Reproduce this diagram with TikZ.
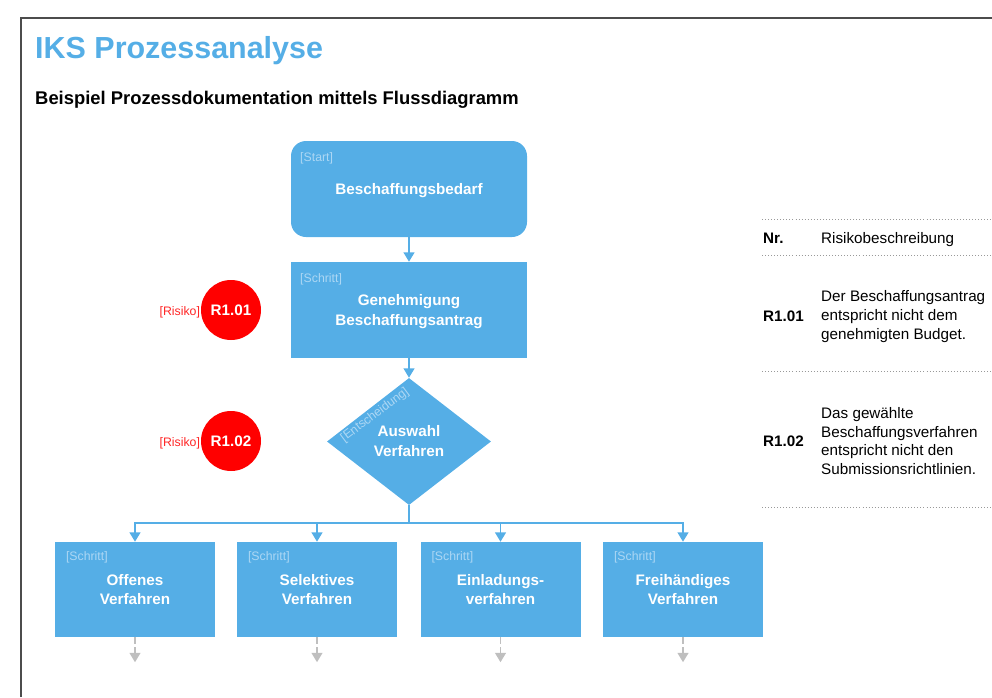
\documentclass[tikz,border=0pt]{standalone}
\usepackage{fontspec}
\setmainfont{Liberation Sans}
\usetikzlibrary{arrows.meta,shapes.geometric}
\definecolor{iksblue}{RGB}{85,174,230}
\definecolor{tagblue}{RGB}{172,215,244}
\definecolor{riskred}{RGB}{255,0,0}
\tikzset{
	frame/.style={line width=1.5pt, color=black!70},
	stepbox/.style={fill=iksblue, text=white, inner sep=0pt, minimum width=48mm, minimum height=28.5mm, align=center, text depth=-3.5pt, font=\bfseries\fontsize{13}{17}\selectfont},
	startbox/.style={stepbox, rounded corners=4.5mm, minimum width=70.8mm, minimum height=28.8mm},
	decision/.style={diamond, fill=iksblue, text=white, inner sep=0pt, minimum width=49.2mm, minimum height=38.1mm, aspect=1.29, align=center, font=\bfseries\fontsize{13}{17}\selectfont},
	tag/.style={anchor=west, inner sep=0pt, text=tagblue, font=\fontsize{10.5}{12}\selectfont},
	risk/.style={circle, fill=riskred, text=white, inner sep=0pt, minimum size=18mm, font=\bfseries\fontsize{13}{15}\selectfont},
	risktag/.style={anchor=east, inner sep=0.5pt, text=riskred!85, font=\fontsize{10.5}{12}\selectfont},
	cell/.style={anchor=base west, inner sep=0pt, align=left, font=\fontsize{13}{16}\selectfont},
	rule/.style={dotted, line width=0.6pt, color=black!40},
	flow/.style={line width=1.6pt, color=iksblue, -{Triangle[length=2.8mm, width=3.2mm]}},
	next/.style={line width=1.6pt, color=black!25, dash pattern=on 2mm off 1mm, -{Triangle[length=2.8mm, width=3.2mm]}}
}

\begin{document}
\begin{tikzpicture}[x=0.3mm, y=-0.3mm]
	%%%%% START %%%%%
	\useasboundingbox (0,0) rectangle (992,697);
	\draw[frame] (21,697) -- (21,18) -- (992,18);
	
	\node[anchor=base west, inner sep=0pt, text=iksblue, font=\bfseries\fontsize{26}{30}\selectfont] (title) at (35,58) {IKS Prozessanalyse};
	\node[anchor=base west, inner sep=0pt, font=\bfseries\fontsize{15.7}{18}\selectfont] (subtitle) at (35,104.5) {Beispiel Prozessdokumentation mittels Flussdiagramm};
	
	% flow chart
	\node[startbox] (bedarf) at (409,189) {Beschaffungsbedarf};
	\node[stepbox, minimum width=70.8mm, minimum height=28.8mm] (antrag) at (409,310) {Genehmigung\\Beschaffungsantrag};
	\node[decision] (auswahl) at (409,441.5) {Auswahl\\Verfahren};
	\node[stepbox] (offen) at (135,589.5) {Offenes\\Verfahren};
	\node[stepbox] (selektiv) at (317,589.5) {Selektives\\Verfahren};
	\node[stepbox] (einladung) at (500.5,589.5) {Einladungs-\\verfahren};
	\node[stepbox] (frei) at (683,589.5) {Freihändiges\\Verfahren};
	
	\node[tag] (tagbedarf) at (300,158) {[Start]};
	\node[tag] (tagantrag) at (300,279) {[Schritt]};
	\node[tag, anchor=center, rotate=37] (tagauswahl) at (375,415) {[Entscheidung]};
	\foreach \n in {offen,selektiv,einladung,frei}
		\node[tag, name=tag\n] at ([shift={(11,16)}]\n.north west) {[Schritt]};
	
	\draw[flow] (bedarf) -- (antrag);
	\draw[flow] (antrag) -- (auswahl);
	\coordinate (split) at (409,523);
	\draw[flow, -] (auswahl) -- (split);
	\foreach \n in {offen,selektiv,einladung,frei}
		\draw[flow] (split) -| (\n);
	\foreach \n in {offen,selektiv,einladung,frei}
		\draw[next] (\n.south) -- ++(0,25);
	
	% risks
	\node[risk] (r101) at (231,310) {R1.01};
	\node[risktag] (tag101) at ([shift={(0,2)}]r101.west) {[Risiko]};
	\node[risk] (r102) at (231,441) {R1.02};
	\node[risktag] (tag102) at ([shift={(0,2)}]r102.west) {[Risiko]};
	
	% table
	\draw[rule] (762,219) -- (992,219);
	\draw[rule] (762,255) -- (992,255);
	\draw[rule] (762,371) -- (992,371);
	\draw[rule] (762,507) -- (992,507);
	
	\node[cell] (nr) at (763,243) {\bfseries Nr.};
	\node[cell] (beschr) at (821,243) {Risikobeschreibung};
	\node[cell] (nr101) at (763,321) {\bfseries R1.01};
	\node[cell] (text101) at (821,339) {Der Beschaffungsantrag\\entspricht nicht dem\\genehmigten Budget.};
	\node[cell] (nr102) at (763,446) {\bfseries R1.02};
	\node[cell] (text102) at (821,474.5) {Das gewählte\\Beschaffungsverfahren\\entspricht nicht den\\Submissionsrichtlinien.};
	
	%%%%% END %%%%%
\end{tikzpicture}
\end{document}
